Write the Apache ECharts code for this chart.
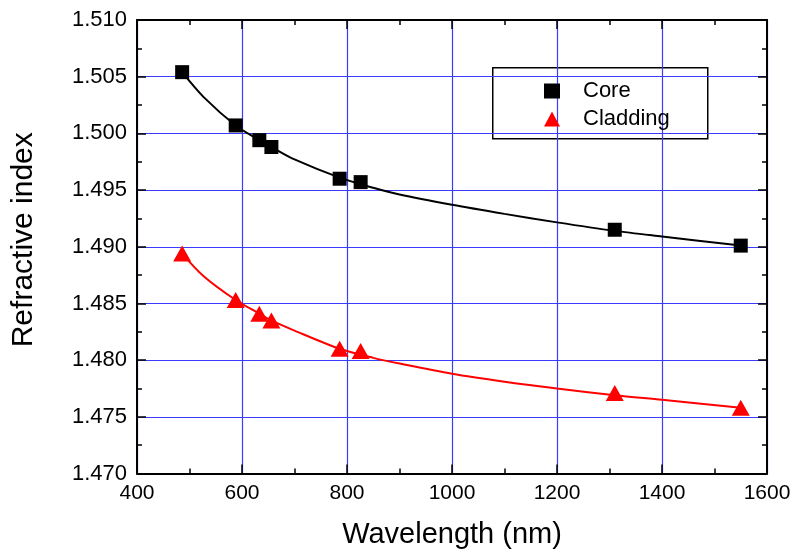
<!DOCTYPE html>
<html>
<head>
<meta charset="utf-8">
<script src="https://cdn.jsdelivr.net/npm/echarts@6/dist/echarts.min.js"></script>
<style>
html,body{margin:0;padding:0;background:#fff;}
#c{width:797px;height:558px;}
</style>
</head>
<body>
<div id="c"></div>
<script>
// Measured data points (wavelength nm, refractive index)
const wavelengths = [486, 588, 633, 656, 786, 826, 1310, 1550];
const coreIndex = [1.5054, 1.5007, 1.4994, 1.4988, 1.4960, 1.4957, 1.4915, 1.4901];
const claddingIndex = [1.4894, 1.4853, 1.4841, 1.4835, 1.4810, 1.4808, 1.4771, 1.4758];

// Fitted curves
const fitWavelengths = [486, 527, 588, 633, 656, 700, 786, 850, 900, 1000, 1100, 1200, 1310, 1400, 1550];
const coreFit = [1.5054, 1.5032, 1.5007, 1.4994, 1.4988, 1.4977, 1.4961, 1.4952, 1.4946, 1.4937, 1.4929, 1.49215, 1.4914, 1.4909, 1.4901];
const claddingFit = [1.4894, 1.4874, 1.4853, 1.4841, 1.4835, 1.4826, 1.4810, 1.4802, 1.4797, 1.4788, 1.4781, 1.4775, 1.4769, 1.4765, 1.4758];

const xTicks = [400, 600, 800, 1000, 1200, 1400, 1600];
const yTicks = [1.470, 1.475, 1.480, 1.485, 1.490, 1.495, 1.500, 1.505, 1.510];

const pair = (xs, ys) => xs.map((x, i) => [x, ys[i]]);

const FONT = 'Liberation Sans, Arial, sans-serif';
const grid = {left: 137, right: 30, top: 20, bottom: 84.5};
const gridColor = '#3c3cff';
const tick = {inside: true, length: 9, lineStyle: {color: '#000', width: 1.5}};
const minor = {show: true, splitNumber: 2, length: 5, lineStyle: {color: '#000', width: 1.5}};

const chart = echarts.init(document.getElementById('c'), null, {renderer: 'canvas'});
chart.setOption({
  animation: false,
  backgroundColor: '#fff',
  grid: grid,
  xAxis: [{
    type: 'value', min: xTicks[0], max: xTicks[xTicks.length - 1], interval: 200,
    name: 'Wavelength (nm)', nameLocation: 'middle', nameGap: 47,
    nameTextStyle: {fontFamily: FONT, fontSize: 29, color: '#000'},
    axisLine: {lineStyle: {color: '#000', width: 2}},
    axisTick: tick, minorTick: minor,
    axisLabel: {fontFamily: FONT, fontSize: 21, color: '#000', margin: 9,
      formatter: v => String(v)},
    splitLine: {show: true, lineStyle: {color: gridColor, width: 1.2}}
  }, {
    type: 'value', position: 'top', min: xTicks[0], max: xTicks[xTicks.length - 1], interval: 200,
    axisLine: {lineStyle: {color: '#000', width: 2}},
    axisTick: tick, minorTick: minor,
    axisLabel: {show: false}, splitLine: {show: false}
  }],
  yAxis: [{
    type: 'value', min: yTicks[0], max: yTicks[yTicks.length - 1], interval: 0.005,
    name: 'Refractive index', nameLocation: 'middle', nameGap: 98, nameRotate: 90,
    nameTextStyle: {fontFamily: FONT, fontSize: 30, color: '#000', padding: [0, 0, 0, 14]},
    axisLine: {lineStyle: {color: '#000', width: 2}},
    axisTick: tick, minorTick: minor,
    axisLabel: {fontFamily: FONT, fontSize: 22, color: '#000', margin: 10,
      formatter: v => v.toFixed(3)},
    splitLine: {show: true, lineStyle: {color: gridColor, width: 1.2}}
  }, {
    type: 'value', position: 'right', min: yTicks[0], max: yTicks[yTicks.length - 1], interval: 0.005,
    axisLine: {show: true, lineStyle: {color: '#000', width: 2}},
    axisTick: Object.assign({show: true}, tick), minorTick: minor,
    axisLabel: {show: false}, splitLine: {show: false}
  }],
  legend: {
    left: 539, top: 75, orient: 'vertical', itemGap: 6,
    itemWidth: 16, itemHeight: 15,
    data: ['Core', 'Cladding'],
    textStyle: {fontFamily: FONT, fontSize: 22, color: '#000', lineHeight: 22, padding: [0, 0, 0, 18]}
  },
  graphic: [{
    type: 'rect', left: 492, top: 67, z: 0,
    shape: {width: 215, height: 71},
    style: {fill: '#fff', stroke: '#000', lineWidth: 1.5}
  }],
  series: [
    {name: 'CoreFit', type: 'line', data: pair(fitWavelengths, coreFit), smooth: 0.3,
      showSymbol: false, lineStyle: {color: '#000', width: 2}, z: 2},
    {name: 'CladdingFit', type: 'line', data: pair(fitWavelengths, claddingFit), smooth: 0.3,
      showSymbol: false, lineStyle: {color: '#ff0000', width: 2}, z: 2},
    {name: 'Core', type: 'scatter', data: pair(wavelengths, coreIndex), symbol: 'rect',
      symbolSize: 14, itemStyle: {color: '#000', opacity: 1}, z: 3},
    {name: 'Cladding', type: 'scatter', data: pair(wavelengths, claddingIndex), symbol: 'triangle',
      symbolSize: [18, 16], itemStyle: {color: '#ff0000', opacity: 1}, z: 3}
  ]
});
</script>
</body>
</html>
